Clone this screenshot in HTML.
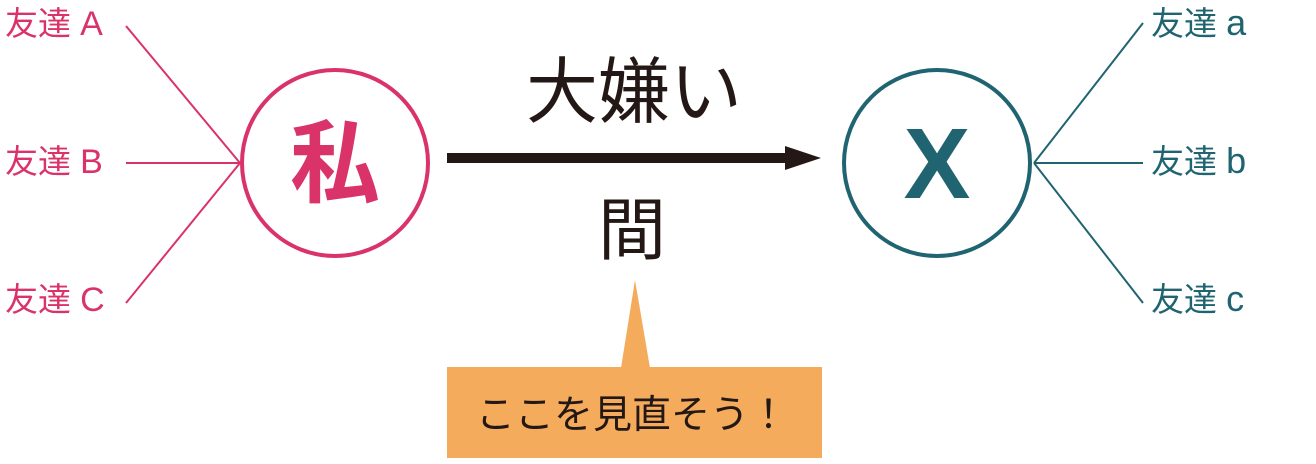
<!DOCTYPE html>
<html><head><meta charset="utf-8"><style>
html,body{margin:0;padding:0;background:#fff;}
body{width:1316px;height:464px;overflow:hidden;position:relative;}
svg{position:absolute;left:0;top:0;}
</style></head><body>
<svg width="1316" height="464" viewBox="0 0 1316 464" xmlns="http://www.w3.org/2000/svg">
<g stroke="#d9336a" stroke-width="2" fill="none">
<line x1="126" y1="26" x2="240" y2="163"/>
<line x1="126" y1="163" x2="240" y2="163"/>
<line x1="126" y1="303" x2="240" y2="163"/>
<circle cx="335" cy="163" r="93" stroke-width="4"/>
</g>
<g stroke="#1f6470" stroke-width="2" fill="none">
<line x1="1143" y1="23" x2="1034" y2="163"/>
<line x1="1143" y1="163" x2="1034" y2="163"/>
<line x1="1143" y1="303" x2="1034" y2="163"/>
<circle cx="937" cy="163" r="93" stroke-width="4"/>
</g>
<g font-family="'Liberation Sans','Noto Sans CJK JP',sans-serif" font-size="33" fill="#d9336a">
<text x="5" y="35">友達 <tspan font-size="34">A</tspan></text>
<text x="5" y="173">友達 <tspan font-size="34">B</tspan></text>
<text x="5" y="311">友達 <tspan font-size="34">C</tspan></text>
</g>
<g font-family="'Liberation Sans','Noto Sans CJK JP',sans-serif" font-size="33" fill="#1f6470">
<text x="1151" y="35">友達 <tspan font-size="36">a</tspan></text>
<text x="1151" y="173">友達 <tspan font-size="36">b</tspan></text>
<text x="1151" y="311">友達 <tspan font-size="36">c</tspan></text>
</g>
<text x="335" y="195" text-anchor="middle" font-family="'Noto Sans CJK JP',sans-serif" font-weight="bold" font-size="90" fill="#d9336a">私</text>
<text x="937" y="198" text-anchor="middle" font-family="'Liberation Sans',sans-serif" font-weight="bold" font-size="100" fill="#1f6470">X</text>
<rect x="447" y="153" width="340" height="10" fill="#231815"/>
<polygon points="785,146 821,158 785,170" fill="#231815"/>
<text x="634" y="117" text-anchor="middle" font-family="'Liberation Sans','Noto Sans CJK JP',sans-serif" font-size="72" fill="#231815">大嫌い</text>
<text x="632" y="254" text-anchor="middle" font-family="'Liberation Sans','Noto Sans CJK JP',sans-serif" font-size="68" fill="#231815">間</text>
<polygon points="635,280 621,368 650,368" fill="#f5ab5c"/>
<rect x="447" y="367" width="375" height="91" fill="#f5ab5c"/>
<text x="632" y="428" text-anchor="middle" font-family="'Liberation Sans','Noto Sans CJK JP',sans-serif" font-size="39" fill="#231815">ここを見直そう！</text>
</svg>
</body></html>
